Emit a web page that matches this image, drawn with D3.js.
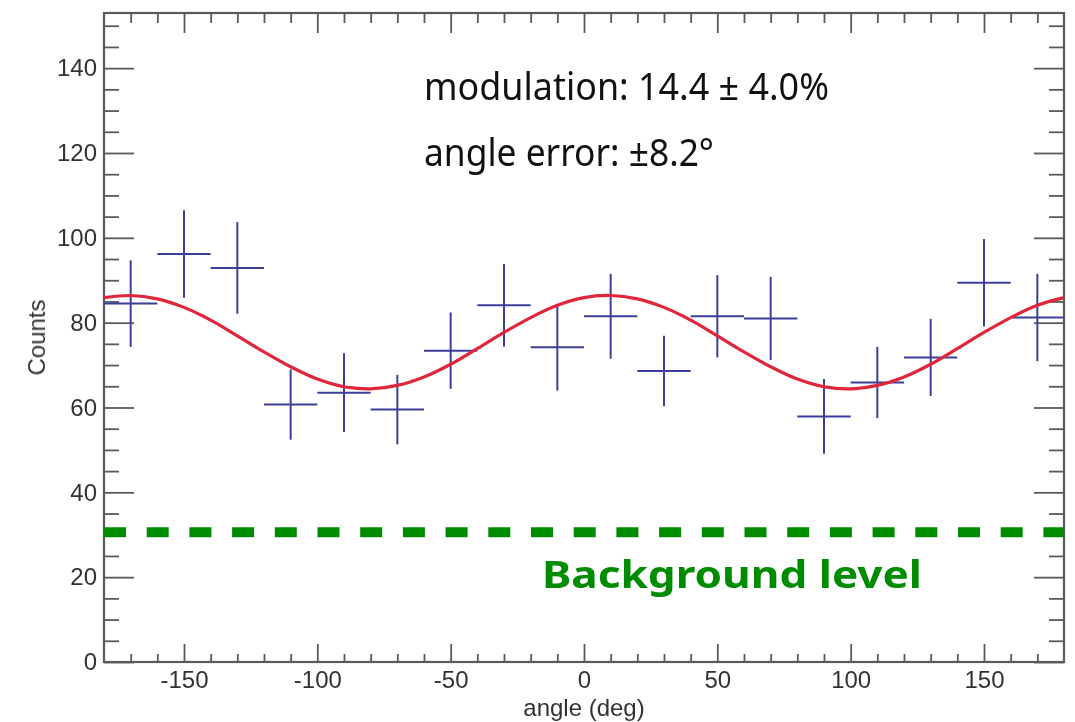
<!DOCTYPE html>
<html>
<head>
<meta charset="utf-8">
<script src="https://cdn.jsdelivr.net/npm/d3@7"></script>
<style>
  html, body { margin: 0; padding: 0; background: #fff; }
  svg { display: block; }
</style>
</head>
<body>
<svg id="chart" width="1075" height="722"></svg>
<script>
// Azimuthal angle bins (centres, deg) and measured counts with 1-sigma errors
const binCentres = [-170, -150, -130, -110, -90, -70, -50, -30, -10, 10, 30, 50, 70, 90, 110, 130, 150, 170];
const binHalfWidth = [10, 10, 10, 10, 10, 10, 10, 10, 10, 10, 10, 10, 10, 10, 10, 10, 10, 10];
const counts = [84.5, 96.2, 92.9, 60.7, 63.5, 59.5, 73.4, 84.1, 74.2, 81.5, 68.6, 81.5, 81.0, 57.9, 65.9, 71.8, 89.4, 81.2];
const countErrors = [10.2, 10.3, 10.8, 8.3, 9.3, 8.2, 9.0, 9.7, 10.2, 10.0, 8.3, 9.7, 9.8, 8.8, 8.4, 9.1, 10.3, 10.3];

// Modulation curve sampled every 10 deg
const fitAngles = [-180, -170, -160, -150, -140, -130, -120, -110, -100, -90, -80, -70, -60, -50, -40, -30, -20, -10,
                   0, 10, 20, 30, 40, 50, 60, 70, 80, 90, 100, 110, 120, 130, 140, 150, 160, 170, 180];
const fitCounts = [85.9, 86.4, 85.6, 83.6, 80.6, 76.9, 73.1, 69.6, 66.7, 64.9, 64.4, 65.2, 67.2, 70.2, 73.9, 77.7, 81.2, 84.1,
                   85.9, 86.4, 85.6, 83.6, 80.6, 76.9, 73.1, 69.6, 66.7, 64.9, 64.4, 65.2, 67.2, 70.2, 73.9, 77.7, 81.2, 84.1, 85.9];

const backgroundLevel = [30.6];

// Axis ticks
const xTickValues = [-150, -100, -50, 0, 50, 100, 150];
const xMinorTicks = d3.range(-170, 180, 10);
const yTickValues = [0, 20, 40, 60, 80, 100, 120, 140];
const yMinorTicks = d3.range(5, 153, 5);

const annotationLines = ["modulation: 14.4 \u00b1 4.0%", "angle error: \u00b18.2\u00b0"];
const backgroundLabel = "Background level";

const svg = d3.select("#chart");
const plot = { left: 104, right: 1064, top: 13, bottom: 662 };

const x = d3.scaleLinear().domain([-180, 180]).range([plot.left, plot.right]);
const y = d3.scaleLinear().domain([0, 153]).range([plot.bottom, plot.top]);

const defs = svg.append("defs");
defs.append("filter").attr("id", "soft")
  .append("feGaussianBlur").attr("stdDeviation", 0.6);

const axisLayer = svg.append("g").attr("filter", "url(#soft)");
const axisColor = "#5a5a5a";
const labelFont = "'Liberation Sans', Arial, Helvetica, sans-serif";
const plainInt = d => String(d);   // ASCII hyphen for negatives

function styleAxis(g) {
  g.selectAll(".domain").remove();
  g.selectAll("line").attr("stroke", axisColor).attr("stroke-width", 1.8);
  g.selectAll("text").attr("fill", "#333").style("font-family", labelFont).style("font-size", "24px");
}

// Bottom axis: major ticks with labels, then minor ticks
axisLayer.append("g").attr("transform", `translate(0,${plot.bottom})`)
  .call(d3.axisBottom(x).tickValues(xTickValues).tickSizeInner(-18).tickSizeOuter(0).tickPadding(9).tickFormat(plainInt))
  .call(styleAxis);
axisLayer.append("g").attr("transform", `translate(0,${plot.bottom})`)
  .call(d3.axisBottom(x).tickValues(xMinorTicks.filter(v => v % 50 !== 0)).tickSizeInner(-8).tickSizeOuter(0).tickFormat(""))
  .call(styleAxis);

// Top axis (ticks only)
axisLayer.append("g").attr("transform", `translate(0,${plot.top})`)
  .call(d3.axisTop(x).tickValues(xTickValues).tickSizeInner(-20).tickSizeOuter(0).tickFormat(""))
  .call(styleAxis);
axisLayer.append("g").attr("transform", `translate(0,${plot.top})`)
  .call(d3.axisTop(x).tickValues(xMinorTicks.filter(v => v % 50 !== 0)).tickSizeInner(-10).tickSizeOuter(0).tickFormat(""))
  .call(styleAxis);

// Left axis
axisLayer.append("g").attr("transform", `translate(${plot.left},0)`)
  .call(d3.axisLeft(y).tickValues(yTickValues).tickSizeInner(-30).tickSizeOuter(0).tickPadding(7).tickFormat(plainInt))
  .call(styleAxis);
axisLayer.append("g").attr("transform", `translate(${plot.left},0)`)
  .call(d3.axisLeft(y).tickValues(yMinorTicks.filter(v => v % 20 !== 0)).tickSizeInner(-15).tickSizeOuter(0).tickFormat(""))
  .call(styleAxis);

// Right axis (ticks only)
axisLayer.append("g").attr("transform", `translate(${plot.right},0)`)
  .call(d3.axisRight(y).tickValues(yTickValues).tickSizeInner(-30).tickSizeOuter(0).tickFormat(""))
  .call(styleAxis);
axisLayer.append("g").attr("transform", `translate(${plot.right},0)`)
  .call(d3.axisRight(y).tickValues(yMinorTicks.filter(v => v % 20 !== 0)).tickSizeInner(-15).tickSizeOuter(0).tickFormat(""))
  .call(styleAxis);

// Frame
axisLayer.append("rect")
  .attr("x", plot.left).attr("y", plot.top)
  .attr("width", plot.right - plot.left).attr("height", plot.bottom - plot.top)
  .attr("fill", "none").attr("stroke", axisColor).attr("stroke-width", 2.2);

// Axis titles
axisLayer.append("text")
  .attr("x", (plot.left + plot.right) / 2).attr("y", 716)
  .attr("text-anchor", "middle")
  .style("font-family", labelFont).style("font-size", "24px").attr("fill", "#333")
  .text("angle (deg)");
axisLayer.append("text")
  .attr("transform", `translate(45,${(plot.top + plot.bottom) / 2}) rotate(-90)`)
  .attr("text-anchor", "middle")
  .style("font-family", labelFont).style("font-size", "24px").attr("fill", "#333")
  .text("Counts");

// Data crosses: horizontal bar = bin width, vertical bar = counting error
const dataLayer = svg.append("g").attr("filter", "url(#soft)");
const pts = binCentres.map((c, i) => ({ c, w: binHalfWidth[i], v: counts[i], e: countErrors[i] }));
const crossColor = "#3d3d9a";
dataLayer.selectAll("line.hbar").data(pts).join("line")
  .attr("class", "hbar")
  .attr("x1", d => x(d.c - d.w)).attr("x2", d => x(d.c + d.w))
  .attr("y1", d => y(d.v)).attr("y2", d => y(d.v))
  .attr("stroke", crossColor).attr("stroke-width", 2);
dataLayer.selectAll("line.vbar").data(pts).join("line")
  .attr("class", "vbar")
  .attr("x1", d => x(d.c)).attr("x2", d => x(d.c))
  .attr("y1", d => y(d.v - d.e)).attr("y2", d => y(d.v + d.e))
  .attr("stroke", crossColor).attr("stroke-width", 2);

// Modulation curve
const line = d3.line().x(d => x(d[0])).y(d => y(d[1])).curve(d3.curveCatmullRom);
dataLayer.append("path")
  .datum(fitAngles.map((a, i) => [a, fitCounts[i]]))
  .attr("d", line)
  .attr("fill", "none").attr("stroke", "#e0283a").attr("stroke-width", 3.2);

// Background level
svg.append("line")
  .attr("x1", x(-180)).attr("x2", x(180))
  .attr("y1", y(backgroundLevel[0])).attr("y2", y(backgroundLevel[0]))
  .attr("stroke", "#008c00").attr("stroke-width", 10)
  .attr("stroke-dasharray", "22 20.7");

// Annotations
const noteFont = "'Comic Sans MS', 'Noto Sans', 'DejaVu Sans', sans-serif";
const noteWidths = [405, 290];
const noteBaselines = [100, 166];
svg.selectAll("text.note").data(annotationLines).join("text")
  .attr("class", "note")
  .attr("x", 424).attr("y", (d, i) => noteBaselines[i])
  .attr("textLength", (d, i) => noteWidths[i]).attr("lengthAdjust", "spacingAndGlyphs")
  .style("font-family", noteFont).style("font-size", "38px").attr("fill", "#111")
  .text(d => d);

svg.append("text")
  .attr("x", 542).attr("y", 588)
  .attr("textLength", 380).attr("lengthAdjust", "spacingAndGlyphs")
  .style("font-family", noteFont).style("font-size", "38px").style("font-weight", "bold")
  .attr("fill", "#008c00")
  .text(backgroundLabel);
</script>
</body>
</html>
